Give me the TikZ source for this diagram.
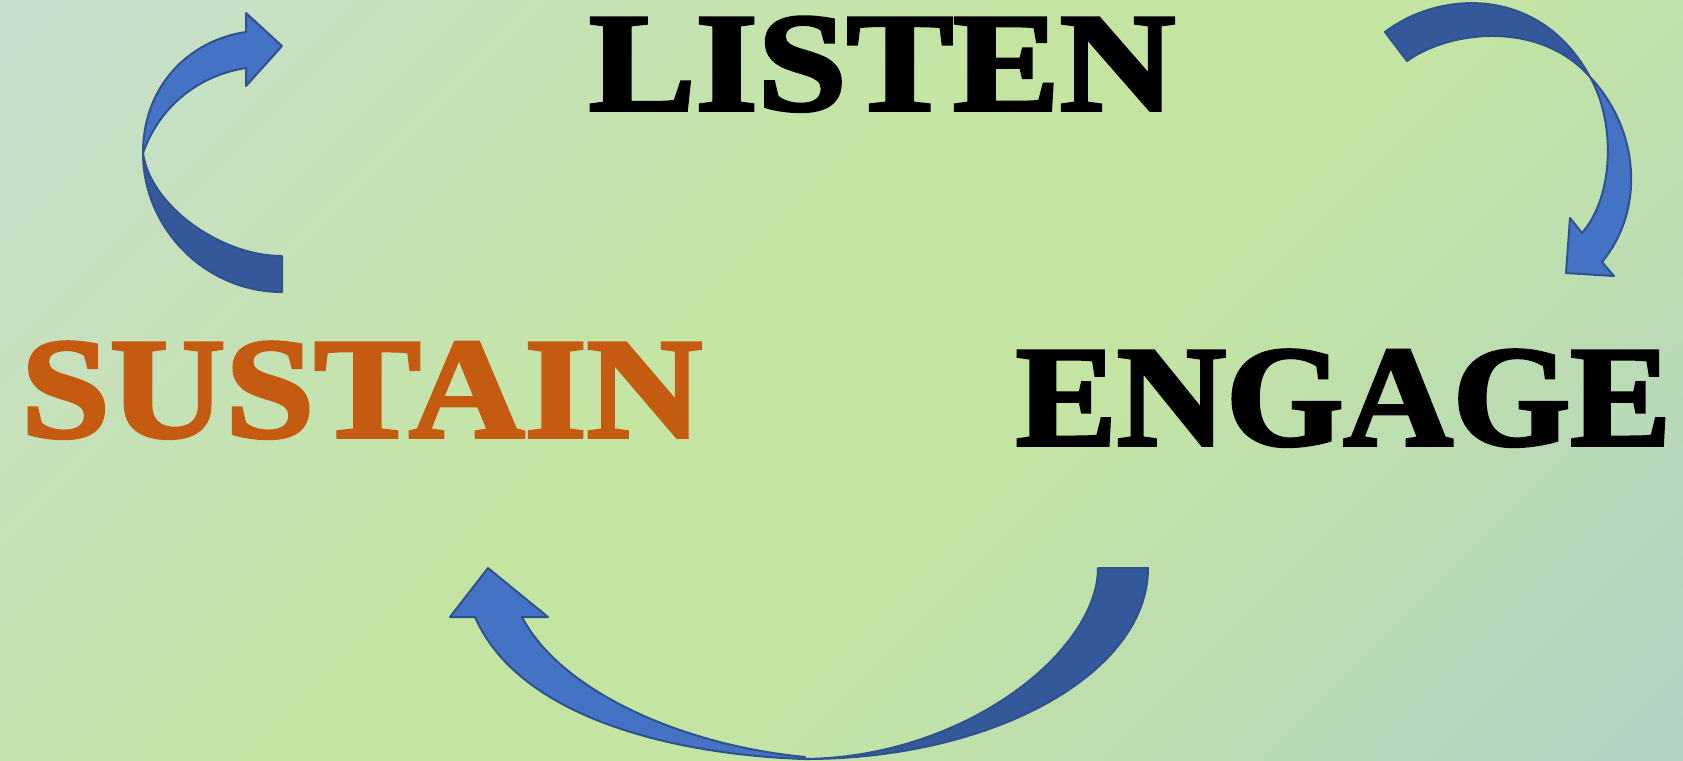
\documentclass[tikz,border=0pt]{standalone}
\usepackage{fontspec}
\usepackage{graphicx}
\setmainfont{Liberation Serif}
\newfontfamily\heavyfont{Liberation Serif}[BoldFeatures={FakeBold=2.5}]
\definecolor{bgA}{RGB}{199,222,206}
\definecolor{bgB}{RGB}{196,229,162}
\definecolor{bgC}{RGB}{178,211,196}
\definecolor{arrLight}{RGB}{68,114,196}
\definecolor{arrDark}{RGB}{52,89,154}
\definecolor{arrLine}{RGB}{47,82,143}
\definecolor{sustainOrange}{RGB}{197,90,17}
\pgfdeclareverticalshading{bgshade}{100bp}{color(0bp)=(bgC); color(15bp)=(bgC); color(43bp)=(bgB); color(55bp)=(bgB); color(85bp)=(bgA); color(100bp)=(bgA)}
\begin{document}
\begin{tikzpicture}[x=0.1mm,y=-0.1mm,
  band/.style={draw=arrLine, line width=0.2mm, line join=round},
  lightband/.style={band, fill=arrLight},
  darkband/.style={band, fill=arrDark},
  word/.style={inner sep=0pt, outer sep=0pt, anchor=base west, font=\heavyfont\bfseries}]
\useasboundingbox (0,0) rectangle (1683,760);
\shade[shading=bgshade, shading angle=45] (0,0) rectangle (1683,760);

% top-left arrow
\draw[darkband] (282,292) .. controls (205,292) and (143,228) .. (143,153)
   .. controls (150,205) and (220,256) .. (282,256) -- cycle;
\draw[lightband] (143,153) .. controls (143,85) and (190,40) .. (246,32)
   -- (246,13) -- (282,46) -- (246,86) -- (246,68)
   .. controls (200,75) and (160,105) .. (143,153) -- cycle;

% top-right arrow
\draw[darkband] (1385,32) .. controls (1440,-10) and (1540,-15) .. (1590,77)
   .. controls (1540,20) and (1450,30) .. (1407,61) -- cycle;
\draw[lightband] (1590,77) .. controls (1640,130) and (1645,210) .. (1602,262)
   -- (1614,276) -- (1566,273) -- (1570,218) -- (1582,233)
   .. controls (1615,195) and (1615,120) .. (1590,77) -- cycle;

% bottom arrow
\draw[darkband] (1148,568) .. controls (1148,673) and (994,759) .. (805,759)
   .. controls (967,757) and (1098,650) .. (1098,568) -- cycle;
\draw[lightband] (475,617) -- (450,617) -- (488,568) -- (548,617) -- (522,617)
   .. controls (560,690) and (680,745) .. (805,757) -- (805,759)
   .. controls (680,755) and (520,720) .. (475,617) -- cycle;

% words
\node[word] (listen) at (589,110) {\resizebox{58.6mm}{9.3mm}{LISTEN}};
\node[word, text=sustainOrange] (sustain) at (21,437) {\resizebox{68.1mm}{9.5mm}{SUSTAIN}};
\node[word] (engage) at (1016,445) {\resizebox{65.5mm}{9.5mm}{ENGAGE}};
\end{tikzpicture}
\end{document}
